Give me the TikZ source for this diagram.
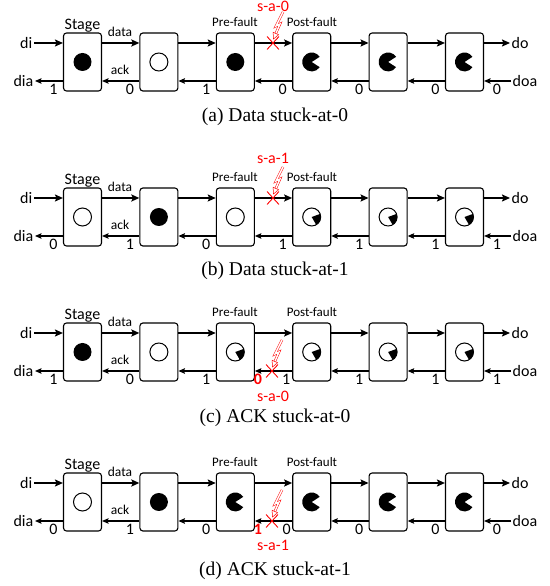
\documentclass[tikz,border=0pt]{standalone}
\usepackage{fontspec}
\setmainfont{Carlito}
\newfontfamily\capfont{Liberation Serif}
\usetikzlibrary{arrows.meta,shapes.misc}

\tikzset{
 box/.style={draw, rounded corners=3pt, minimum width=38pt, minimum height=58pt, line width=1.1pt, inner sep=0pt},
 dline/.style={line width=1.8pt, -{Stealth[length=8pt,width=7pt,inset=1.5pt]}},
 aline/.style={line width=1.1pt, -{Stealth[length=6.5pt,width=5.5pt,inset=1pt]}},
 lbl/.style={font=\fontsize{16}{16}\selectfont, inner sep=1.5pt},
 slbl/.style={font=\fontsize{13}{13}\selectfont, inner sep=0pt},
 num/.style={font=\fontsize{16}{16}\selectfont, inner sep=0pt},
 redlbl/.style={font=\fontsize{16}{16}\selectfont, text=red, inner sep=0pt},
 rednum/.style={font=\bfseries\fontsize{16}{16}\selectfont, text=red, inner sep=0pt},
 captxt/.style={font=\capfont\fontsize{19.5}{19.5}\selectfont, inner sep=0pt},
 xmark/.style={cross out, draw=red, line width=0.9pt, minimum width=11pt, minimum height=12pt, inner sep=0pt},
 boltline/.style={red, line width=0.5pt, double=white, double distance=1.4pt},
}

\newcommand\symF[1]{\fill (#1.center) circle (9);}
\newcommand\symO[1]{\draw[line width=1pt] (#1.center) circle (9);}
\newcommand\symP[1]{\fill (#1.center) -- ++(33:9.5) arc (33:327:9.5) -- cycle;}
\newcommand\symQ[1]{\fill (#1.center) -- ++(20:9) arc (20:-60:9) -- cycle;
  \draw[line width=1pt] (#1.center) circle (9);}

% #1 prefix, #2 box centre y, #3 symbols, #4 ack numbers, #5 x shift of 4th number
\newcommand\mypanel[5]{%
 \foreach \s [count=\i] in {#3}{%
   \node[box] (#1\i) at ({82.5+76.4*(\i-1)},#2) {};
   \csname sym\s\endcsname{#1\i}%
 }
 \foreach \i [evaluate=\i as \j using int(\i+1)] in {1,...,5}{%
   \draw[dline] ([yshift=19]#1\i.east) -- ([yshift=19]#1\j.west);
   \draw[aline] ([yshift=-19]#1\j.west) -- ([yshift=-19]#1\i.east);
 }
 \foreach \n [count=\i] in {#4}{%
   \pgfmathsetmacro\nx{\i<7 ? 82.5+76.4*(\i-1)-29+(\i==4)*#5 : 497}%
   \node[num, anchor=base] (#1n\i) at (\nx, #2-33) {\n};
 }
 \node[lbl, anchor=east] (#1di) at (34, #2+19) {di};
 \draw[dline] (#1di) -- ([yshift=19]#11.west);
 \node[lbl, anchor=east] (#1dia) at (35, #2-19) {dia};
 \draw[aline] ([yshift=-19]#11.west) -- (#1dia);
 \node[lbl, anchor=west] (#1do) at (510, #2+19) {do};
 \draw[dline] ([yshift=19]#16.east) -- (#1do);
 \node[lbl, anchor=west] (#1doa) at (511, #2-19) {doa};
 \draw[aline] (#1doa) -- ([yshift=-19]#16.east);
 \node[lbl, inner sep=0pt, anchor=base] (#1st) at (82.5, #2+32) {Stage};
 \node[slbl, anchor=base] (#1pre) at (235, #2+35) {Pre-fault};
 \node[slbl, anchor=base] (#1post) at (312, #2+35) {Post-fault};
 \node[slbl, font=\fontsize{13.5}{13.5}\selectfont, anchor=base] (#1data) at (120, #2+25) {data};
 \node[slbl, font=\fontsize{13.5}{13.5}\selectfont, anchor=base] (#1ack) at (120, #2-13) {ack};
}

% #1 name, #2 x, #3 y, #4 label, #5 label y
\newcommand\fault[5]{%
 \node[xmark] (#1) at (#2,#3) {};
 \draw[boltline] ([shift={(10,31)}]#1.center) -- ([shift={(3,17)}]#1.center)
   -- ([shift={(7,19)}]#1.center) -- ([shift={(2.8,9.5)}]#1.center);
 \filldraw[red, fill=white, line width=0.5pt] ([shift={(0.5,4)}]#1.center)
   -- ([shift={(5.6,8.3)}]#1.center) -- ([shift={(0.1,10.7)}]#1.center) -- cycle;
 \node[redlbl] (#1l) at (273, #5) {#4};
}

\begin{document}
\begin{tikzpicture}[x=1pt,y=1pt]
\useasboundingbox (0,0) rectangle (549,586);

% (a)
\mypanel{a}{524}{F,O,F,P,P,P}{1,0,1,0,0,0,0}{0}
\fault{fa}{273}{543}{s-a-0}{579.5}
\node[captxt] (capa) at (275,469) {(a) Data stuck-at-0};

% (b)
\mypanel{b}{369}{O,F,O,Q,Q,Q}{0,1,0,1,1,1,1}{0}
\fault{fb}{273}{388}{s-a-1}{428}
\node[captxt] (capb) at (275,315) {(b) Data stuck-at-1};

% (c)
\mypanel{c}{234}{F,O,Q,Q,Q,Q}{1,0,1,1,1,1,1}{3.5}
\fault{fc}{272}{215}{s-a-0}{190}
\node[rednum, anchor=base] (cr) at (258,201) {0};
\node[captxt] (capc) at (275,168) {(c) ACK stuck-at-0};

% (d)
\mypanel{d}{84}{O,F,P,P,P,P}{0,1,0,0,0,0,0}{4}
\fault{fd}{272}{65}{s-a-1}{41}
\node[rednum, anchor=base] (dr) at (258,51) {1};
\node[captxt] (capd) at (275,15) {(d) ACK stuck-at-1};
\end{tikzpicture}
\end{document}
